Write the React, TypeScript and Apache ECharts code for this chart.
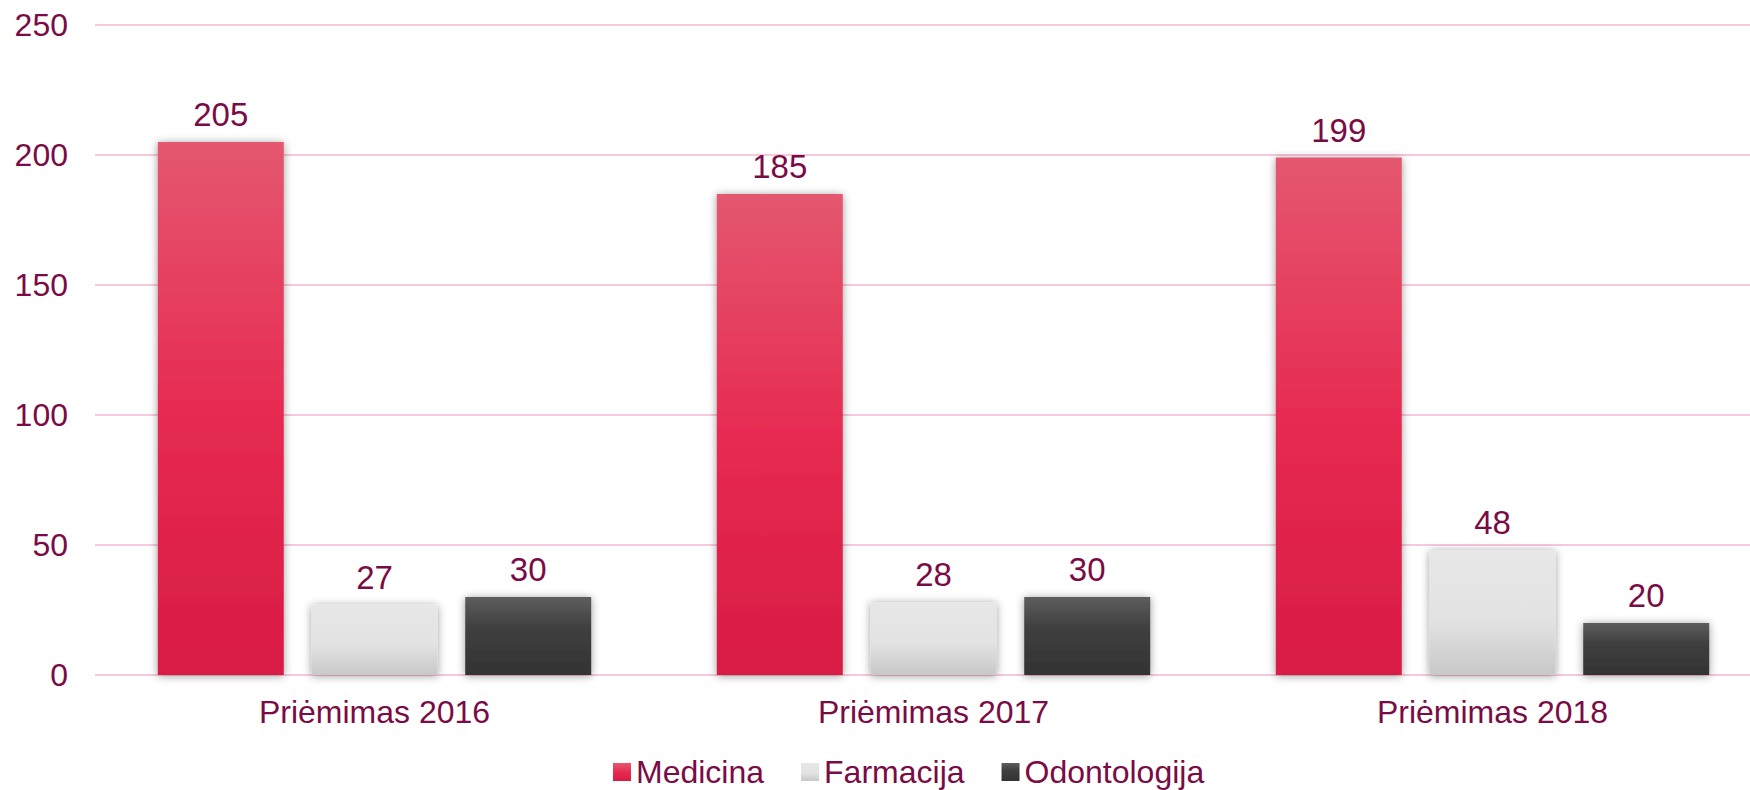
import React, { useEffect, useRef } from "react";
import * as echarts from "echarts";

const categories = ["Priėmimas 2016", "Priėmimas 2017", "Priėmimas 2018"];
const seriesNames = ["Medicina", "Farmacija", "Odontologija"];
const medicina = [205, 185, 199];
const farmacija = [27, 28, 48];
const odontologija = [30, 30, 20];
const yTicks = { min: 0, max: 250, interval: 50 };

const TEXT = "#7A0B45";
const FONT = "'Liberation Sans', Arial, sans-serif";

const grad = (stops: [number, string][]) =>
  new echarts.graphic.LinearGradient(0, 0, 0, 1, stops.map(([offset, color]) => ({ offset, color })));

const colors = [
  grad([[0, "#E4586F"], [0.5, "#E72B51"], [1, "#D81B44"]]),
  grad([[0, "#E7E7E7"], [0.55, "#E3E3E3"], [1, "#C8C8C8"]]),
  grad([[0, "#5E5E5E"], [0.4, "#3F3F3F"], [1, "#333333"]]),
];

export default function App() {
  const ref = useRef<HTMLDivElement>(null);
  useEffect(() => {
    const chart = echarts.init(ref.current!, undefined, { renderer: "svg" });
    const values = [medicina, farmacija, odontologija];
    chart.setOption({
      animation: false,
      textStyle: { fontFamily: FONT },
      grid: { left: 95, top: 25, right: 0, height: 650, containLabel: false },
      legend: {
        left: 613,
        top: 756,
        padding: 0,
        itemWidth: 18,
        itemHeight: 18,
        itemGap: 37,
        icon: "rect",
        textStyle: { color: TEXT, fontSize: 32, lineHeight: 32, fontFamily: FONT },
        data: seriesNames,
      },
      xAxis: {
        type: "category",
        data: categories,
        axisLine: { show: false },
        axisTick: { show: false },
        axisLabel: { color: TEXT, fontSize: 32, fontFamily: FONT, margin: 21 },
      },
      yAxis: {
        type: "value",
        min: yTicks.min,
        max: yTicks.max,
        interval: yTicks.interval,
        axisLine: { show: false },
        axisTick: { show: false },
        axisLabel: { color: TEXT, fontSize: 32, fontFamily: FONT, margin: 27 },
        splitLine: { lineStyle: { color: "#F8C8DD", width: 2 } },
      },
      series: seriesNames.map((name, i) => ({
        name,
        type: "bar",
        data: values[i],
        barWidth: 126,
        barGap: "22%",
        itemStyle: {
          color: colors[i],
          shadowBlur: 8,
          shadowColor: "rgba(0,0,0,0.4)",
          shadowOffsetX: 0,
          shadowOffsetY: 1,
        },
        label: {
          show: true,
          position: "top",
          distance: 11,
          color: TEXT,
          fontSize: 33,
          fontFamily: FONT,
        },
      })),
    });
    return () => chart.dispose();
  }, []);
  return (
    <div
      ref={ref}
      style={{ position: "fixed", left: 0, top: 0, width: 1772, height: 790, background: "#fff" }}
    />
  );
}
